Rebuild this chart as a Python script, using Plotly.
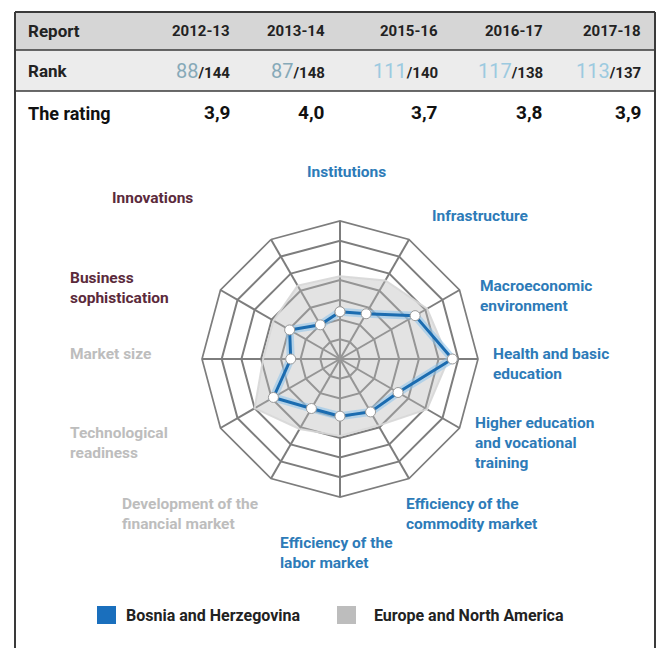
import plotly.graph_objects as go

W, H = 659, 648

# ---------------- data ----------------
reports = ["2012-13", "2013-14", "2015-16", "2016-17", "2017-18"]
ranks = [88, 87, 111, 117, 113]
totals = [144, 148, 140, 138, 137]
ratings = ["3,9", "4,0", "3,7", "3,8", "3,9"]

pillars = ["Institutions", "Infrastructure", "Macroeconomic environment",
           "Health and basic education", "Higher education and vocational training",
           "Efficiency of the commodity market", "Efficiency of the labor market",
           "Development of the financial market", "Technological readiness",
           "Market size", "Business sophistication", "Innovations"]
bih = [2.4, 2.65, 4.4, 5.7, 3.4, 3.1, 2.9, 2.9, 3.9, 2.5, 2.95, 2.0]
europe = [4.2, 4.6, 5.1, 5.5, 5.1, 3.9, 3.9, 4.1, 5.0, 3.9, 3.9, 4.3]

series_names = ["Bosnia and Herzegovina", "Europe and North America"]

# ---------------- helpers ----------------
def px(x):
    return x / W

def py(y):
    return 1 - y / H

FONT = "Roboto"
BLUE = "#1b6cb0"
LBL_BLUE = "#2d7bb8"
MAROON = "#5b2a3b"
LGREY = "#bdbdbd"

fig = go.Figure()

theta = pillars + [pillars[0]]

fig.add_trace(go.Scatterpolar(
    r=europe + [europe[0]], theta=theta, mode="lines", fill="toself",
    fillcolor="rgba(185,185,185,0.40)", line=dict(color="rgba(215,215,215,0.9)", width=2),
    name=series_names[1], showlegend=False, hoverinfo="skip"))

fig.add_trace(go.Scatterpolar(
    r=bih + [bih[0]], theta=theta, mode="lines",
    line=dict(color="rgba(140,195,235,0.55)", width=8),
    showlegend=False, hoverinfo="skip"))

fig.add_trace(go.Scatterpolar(
    r=bih + [bih[0]], theta=theta, mode="lines+markers",
    line=dict(color=BLUE, width=3),
    marker=dict(size=10, color="white", line=dict(color="#9a9a9a", width=1)),
    name=series_names[0], showlegend=False))

cx, cy, R = 340, 359, 138
fig.update_layout(
    polar=dict(
        domain=dict(x=[px(cx - R), px(cx + R)], y=[py(cy + R), py(cy - R)]),
        gridshape="linear",
        bgcolor="white",
        radialaxis=dict(range=[0, 7], dtick=1, showticklabels=False, ticks="",
                        gridcolor="#7d7d7d", gridwidth=1.5, showline=False),
        angularaxis=dict(rotation=90, direction="clockwise", showticklabels=False,
                         ticks="", gridcolor="#7d7d7d", gridwidth=1.5,
                         linecolor="#7d7d7d", linewidth=1.7),
    ),
    width=W, height=H, margin=dict(l=0, r=0, t=0, b=0),
    paper_bgcolor="white", plot_bgcolor="white", showlegend=False,
)

shapes = []
shapes.append(dict(type="rect", xref="paper", yref="paper", x0=px(15), x1=px(655),
                   y0=py(50), y1=py(12), fillcolor="#d6d6d6", line=dict(width=0), layer="below"))
shapes.append(dict(type="rect", xref="paper", yref="paper", x0=px(15), x1=px(655),
                   y0=py(91), y1=py(50), fillcolor="#ececec", line=dict(width=0), layer="below"))
for yy, w in [(12, 2), (50, 1.5), (91, 1.5)]:
    shapes.append(dict(type="line", xref="paper", yref="paper", x0=px(15), x1=px(655),
                       y0=py(yy), y1=py(yy), line=dict(color="#3a3a3a", width=w)))
for xx in [15, 655]:
    shapes.append(dict(type="line", xref="paper", yref="paper", x0=px(xx), x1=px(xx),
                       y0=py(12), y1=0, line=dict(color="#3a3a3a", width=2)))
shapes.append(dict(type="rect", xref="paper", yref="paper", x0=px(97), x1=px(116),
                   y0=py(624), y1=py(606), fillcolor="#1a6fbd", line=dict(width=0)))
shapes.append(dict(type="rect", xref="paper", yref="paper", x0=px(337), x1=px(356),
                   y0=py(624), y1=py(606), fillcolor="#bdbdbd", line=dict(width=0)))
fig.update_layout(shapes=shapes)

ann = []
def A(x, y, text, size=14, color="#222", xanchor="left", align="left"):
    ann.append(dict(x=px(x), y=py(y), xref="paper", yref="paper", text=text,
                    showarrow=False, xanchor=xanchor, yanchor="middle", align=align,
                    font=dict(family=FONT, size=size, color=color)))

col_right = [232, 327, 440, 545, 643]
A(26, 31, "<b>Report</b>", 17)
A(26, 71, "<b>Rank</b>", 17)
A(26, 113, "<b>The rating</b>", 18, "#111")
rank_cols = ["#86a9b8", "#86a9b8", "#9ccae0", "#9ccae0", "#9ccae0"]
for i in range(5):
    A(col_right[i], 31, f"<b>{reports[i]}</b>", 15, xanchor="right")
    A(col_right[i], 71,
      f"<span style='color:{rank_cols[i]};font-size:20px'>{ranks[i]}</span><b>/{totals[i]}</b>",
      15, xanchor="right")
    A(col_right[i], 112, f"<b>{ratings[i]}</b>", 19, "#111", xanchor="right")

lab = [
    (305, 172, "Institutions", LBL_BLUE),
    (430, 216, "Infrastructure", LBL_BLUE),
    (478, 296, "Macroeconomic<br>environment", LBL_BLUE),
    (491, 364, "Health and basic<br>education", LBL_BLUE),
    (473, 443, "Higher education<br>and vocational<br>training", LBL_BLUE),
    (404, 514, "Efficiency of the<br>commodity market", LBL_BLUE),
    (278, 553, "Efficiency of the<br>labor market", LBL_BLUE),
    (120, 514, "Development of the<br>financial market", LGREY),
    (68, 443, "Technological<br>readiness", LGREY),
    (68, 354, "Market size", LGREY),
    (68, 288, "Business<br>sophistication", MAROON),
    (110, 198, "Innovations", MAROON),
]
for x, y, t, c in lab:
    A(x, y, f"<b>{t}</b>", 15.5, c)

A(124, 615, "<b>" + series_names[0] + "</b>", 16, "#222")
A(372, 615, "<b>" + series_names[1] + "</b>", 16, "#222")

fig.update_layout(annotations=ann)
fig.write_html("out.html", config={"displayModeBar": False},
               post_script="document.body.style.margin='0';document.body.style.overflow='hidden';")
